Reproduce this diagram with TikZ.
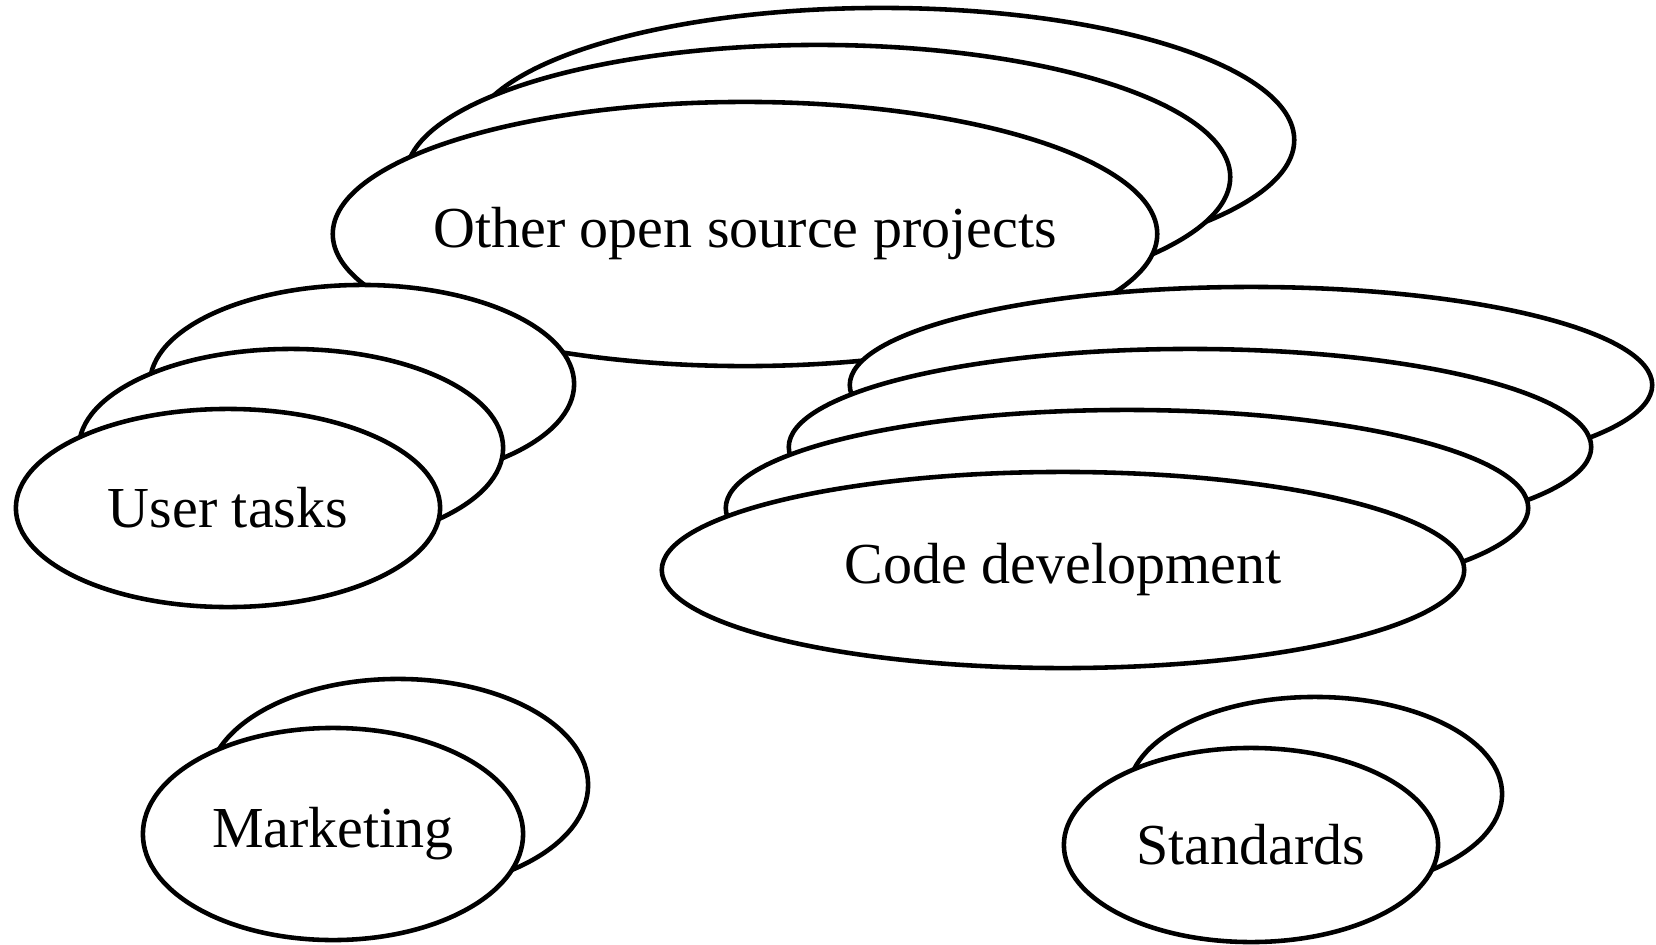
\documentclass[tikz,border=0pt]{standalone}
\usepackage{fontspec}
\setmainfont{Liberation Serif}
\usetikzlibrary{shapes.geometric}
\begin{document}
\begin{tikzpicture}[
    x=0.01cm, y=-0.01cm,
    every node/.style={font=\fontsize{16.5}{19}\selectfont},
    card/.style={
        ellipse,
        draw=black,
        fill=white,
        line width=1.3pt,
        inner sep=0pt,
        anchor=center,
    }
]

% Page frame (pixels of the 1656 x 945 sheet)
\useasboundingbox (0,0) rectangle (1656,945);

% Ellipse sizes per group
\def\ossW{8.24}  \def\ossH{2.64}   % Other open source projects
\def\usrW{4.24}  \def\usrH{1.98}   % User tasks
\def\codW{8.02}  \def\codH{1.96}   % Code development
\def\mktW{3.80}  \def\mktH{2.12}   % Marketing
\def\stdW{3.74}  \def\stdH{1.94}   % Standards

% --- Other open source projects ---
\node[card, minimum width=\ossW cm, minimum height=\ossH cm] (oss3) at (882,140) {};
\node[card, minimum width=\ossW cm, minimum height=\ossH cm] (oss2) at (818,177) {};
\node[card, minimum width=\ossW cm, minimum height=\ossH cm,
    label=center:{Other open source projects}] (oss1) at (745,234) {};

% --- User tasks ---
\node[card, minimum width=\usrW cm, minimum height=\usrH cm] (usr3) at (362,384) {};
\node[card, minimum width=\usrW cm, minimum height=\usrH cm] (usr2) at (291,448) {};
\node[card, minimum width=\usrW cm, minimum height=\usrH cm,
    label=center:{User tasks}] (usr1) at (228,508) {};

% --- Code development ---
\node[card, minimum width=\codW cm, minimum height=\codH cm] (cod4) at (1251,385) {};
\node[card, minimum width=\codW cm, minimum height=\codH cm] (cod3) at (1190,447) {};
\node[card, minimum width=\codW cm, minimum height=\codH cm] (cod2) at (1127,508) {};
\node[card, minimum width=\codW cm, minimum height=\codH cm,
    label=center:{Code development}] (cod1) at (1063,570) {};

% --- Marketing ---
\node[card, minimum width=\mktW cm, minimum height=\mktH cm] (mkt2) at (398,785) {};
\node[card, minimum width=\mktW cm, minimum height=\mktH cm,
    label=center:{Marketing}] (mkt1) at (333,834) {};

% --- Standards ---
\node[card, minimum width=\stdW cm, minimum height=\stdH cm] (std2) at (1315,794) {};
\node[card, minimum width=\stdW cm, minimum height=\stdH cm,
    label=center:{Standards}] (std1) at (1251,845) {};

\end{tikzpicture}
\end{document}
